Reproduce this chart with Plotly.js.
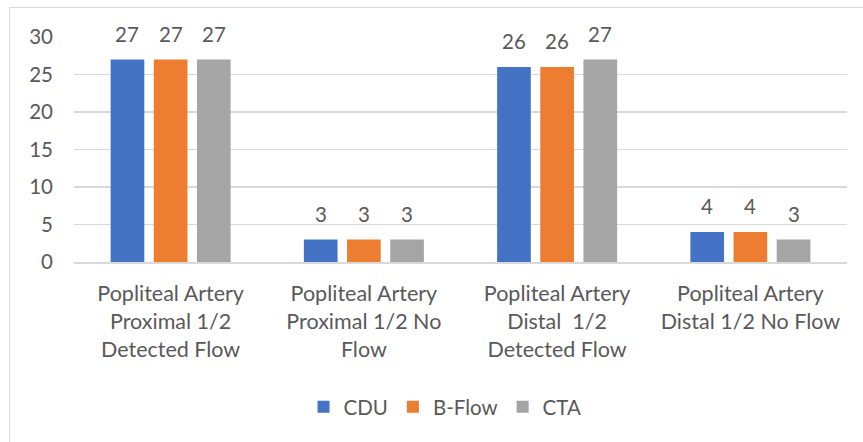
<!DOCTYPE html>
<html>
<head>
<meta charset="utf-8">
<script src="https://cdn.plot.ly/plotly-3.0.1.min.js"></script>
<style>
  html, body { margin: 0; padding: 0; background: #ffffff; }
  #frame { position: absolute; left: 9px; top: 7px; width: 900px; height: 500px; border: 1.5px solid #d9d9d9; box-sizing: border-box; }
  #chart { position: absolute; left: 0; top: 0; width: 863px; height: 442px; }
</style>
</head>
<body>
<div id="frame"></div>
<div id="chart"></div>
<script>
const categories = [
  "Popliteal Artery<br>Proximal 1/2<br>Detected Flow",
  "Popliteal Artery<br>Proximal 1/2 No<br>Flow",
  "Popliteal Artery<br>Distal \u00a01/2<br>Detected Flow",
  "Popliteal Artery<br>Distal 1/2 No Flow"
];
const seriesNames = ["CDU", "B-Flow", "CTA"];
const cduValues = [27, 3, 26, 4];
const bflowValues = [27, 3, 26, 4];
const ctaValues = [27, 3, 27, 3];
const yTicks = [0, 5, 10, 15, 20, 25, 30];

const colors = ["#4472C4", "#ED7D31", "#A5A5A5"];
const allValues = [cduValues, bflowValues, ctaValues];
const BARGAP = 0.33;
const FONT = "Lato, 'Open Sans', sans-serif";
const TXT = "#595959";

const traces = allValues.map((vals, i) => ({
  type: "bar",
  name: seriesNames[i],
  x: categories,
  y: vals,
  marker: { color: colors[i] },
  hoverinfo: "skip"
}));

const annotations = [];
allValues.forEach((vals, i) => {
  vals.forEach((v, j) => {
    annotations.push({
      x: j + (i - 1) * (1 - BARGAP) / 3,
      y: v,
      xref: "x", yref: "y",
      text: String(v),
      showarrow: false,
      yanchor: "middle",
      yshift: 26,
      font: { family: FONT, size: 20.5, color: TXT }
    });
  });
});

const layout = {
  width: 863, height: 442,
  margin: { l: 74, r: 16, t: 37, b: 180 },
  paper_bgcolor: "rgba(0,0,0,0)",
  plot_bgcolor: "rgba(0,0,0,0)",
  barmode: "group",
  bargap: BARGAP,
  bargroupgap: 0.22,
  font: { family: FONT, size: 20, color: TXT },
  xaxis: {
    type: "category",
    tickfont: { family: FONT, size: 21.5, color: TXT },
    showgrid: false,
    showline: true, linecolor: "#d9d9d9", linewidth: 1.5,
    ticks: "", ticklabelstandoff: 12,
    fixedrange: true
  },
  yaxis: {
    range: [0, 30],
    tickvals: yTicks,
    tickfont: { family: FONT, size: 20.5, color: TXT },
    showgrid: true, gridcolor: "#d9d9d9", gridwidth: 1.5,
    zeroline: false,
    showline: false,
    ticks: "", ticklabelstandoff: 20,
    fixedrange: true
  },
  showlegend: true,
  legend: {
    orientation: "h",
    x: 0.48, xanchor: "center",
    y: -0.644, yanchor: "middle",
    font: { family: FONT, size: 20.5, color: TXT },
    itemwidth: 30,
    traceorder: "normal"
  },
  annotations: annotations
};

Plotly.newPlot("chart", traces, layout, { displayModeBar: false, staticPlot: true });
</script>
</body>
</html>
